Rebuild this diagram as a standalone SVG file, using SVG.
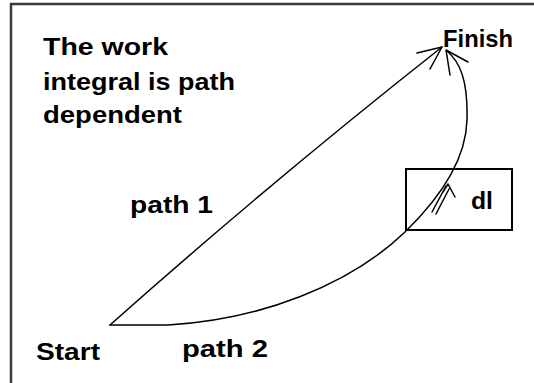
<svg xmlns="http://www.w3.org/2000/svg" width="534" height="383" viewBox="0 0 534 383">
<style>
.t{font-family:"Liberation Sans","DejaVu Sans",sans-serif;font-weight:bold;font-size:24px;fill:#000}
.c{fill:none;stroke:#000;stroke-width:1.5;stroke-linecap:round;stroke-linejoin:round}
.frame{fill:none;stroke:#3a3a3a;stroke-width:2.5}
</style>
<rect width="534" height="383" fill="#fff"/>
<path class="frame" d="M11,400 L11,4 L540,4"/>
<g id="title">
<text class="t" x="43" y="55" textLength="125" lengthAdjust="spacingAndGlyphs">The work</text>
<text class="t" x="43" y="90" textLength="192" lengthAdjust="spacingAndGlyphs">integral is path</text>
<text class="t" x="43" y="123" textLength="139" lengthAdjust="spacingAndGlyphs">dependent</text>
</g>
<g id="start"><text class="t" x="36" y="360" textLength="64" lengthAdjust="spacingAndGlyphs">Start</text></g>
<g id="finish"><text class="t" x="443" y="47" textLength="70" lengthAdjust="spacingAndGlyphs">Finish</text></g>
<g id="dl-box">
<rect x="406" y="169" width="106" height="61" fill="none" stroke="#000" stroke-width="2"/>
<text class="t" x="471" y="209" textLength="22" lengthAdjust="spacingAndGlyphs">dl</text>
<path class="c" d="M432,212 L446,186 M436,214 L449,189 M443,192 L448,184 L455,197"/>
</g>
<g id="labels">
<text class="t" x="130" y="213" textLength="83" lengthAdjust="spacingAndGlyphs">path 1</text>
<text class="t" x="182" y="357" textLength="86" lengthAdjust="spacingAndGlyphs">path 2</text>
</g>
<g id="connectors">
<path class="c" d="M110,325 Q272,181 442,47"/>
<path class="c" d="M417,53 L442,47 L430,69"/>
<path class="c" d="M110,325 L168,325 C260,320 350,285 405,232 C440,198 466,160 467,120 C468,80 460,62 447,51"/>
<path class="c" d="M468,62 L446,50 L450,75"/>
</g>
</svg>
